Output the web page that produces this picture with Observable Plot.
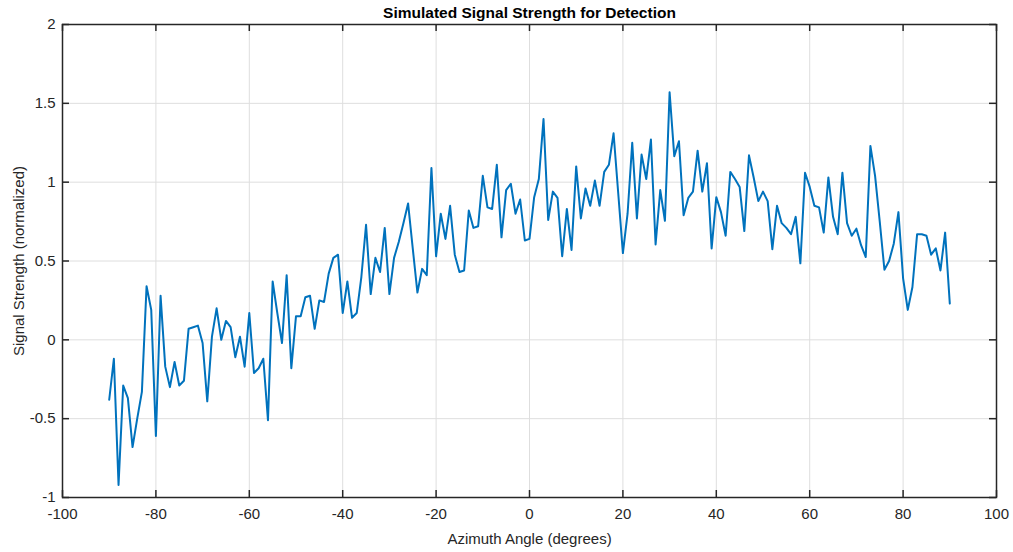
<!DOCTYPE html>
<html>
<head>
<meta charset="utf-8">
<script src="https://cdn.jsdelivr.net/npm/d3@7"></script>
<script src="https://cdn.jsdelivr.net/npm/@observablehq/plot@0.6"></script>
<style>
  html, body { margin: 0; padding: 0; background: #fff; }
  #chart svg { display: block; }
</style>
</head>
<body>
<div id="chart"></div>
<script>
// ---- data ----
const chartTitle = "Simulated Signal Strength for Detection";
const xLabel = "Azimuth Angle (degrees)";
const yLabel = "Signal Strength (normalized)";
const xTicks = [-100, -80, -60, -40, -20, 0, 20, 40, 60, 80, 100];
const yTicks = [-1, -0.5, 0, 0.5, 1, 1.5, 2];
const angleStart = -90;   // degrees, 1-degree sampling
const signal = [
  // -90 .. -61
  -0.38, -0.12, -0.92, -0.29, -0.37, -0.68, -0.50, -0.33, 0.34, 0.19,
  -0.61, 0.28, -0.17, -0.30, -0.14, -0.29, -0.26, 0.07, 0.08, 0.09,
  -0.02, -0.39, 0.02, 0.20, 0.00, 0.12, 0.08, -0.11, 0.02, -0.17,
  // -60 .. -31
  0.17, -0.21, -0.18, -0.12, -0.51, 0.37, 0.17, -0.02, 0.41, -0.18,
  0.15, 0.15, 0.27, 0.28, 0.07, 0.25, 0.24, 0.42, 0.52, 0.54,
  0.17, 0.37, 0.14, 0.17, 0.40, 0.73, 0.29, 0.52, 0.43, 0.71,
  // -30 .. -1
  0.29, 0.52, 0.62, 0.74, 0.865, 0.58, 0.30, 0.45, 0.41, 1.09,
  0.53, 0.80, 0.64, 0.85, 0.54, 0.43, 0.44, 0.82, 0.71, 0.72,
  1.04, 0.84, 0.83, 1.11, 0.65, 0.95, 0.99, 0.80, 0.89, 0.63,
  // 0 .. 29
  0.64, 0.905, 1.02, 1.40, 0.76, 0.94, 0.90, 0.53, 0.83, 0.57,
  1.10, 0.77, 0.96, 0.85, 1.01, 0.85, 1.065, 1.11, 1.31, 0.93,
  0.55, 0.80, 1.25, 0.77, 1.175, 1.02, 1.27, 0.605, 0.95, 0.755,
  // 30 .. 59
  1.57, 1.165, 1.26, 0.79, 0.90, 0.94, 1.20, 0.94, 1.12, 0.58,
  0.905, 0.81, 0.66, 1.065, 1.02, 0.97, 0.69, 1.17, 1.03, 0.88,
  0.94, 0.88, 0.575, 0.85, 0.74, 0.71, 0.67, 0.78, 0.485, 1.06,
  // 60 .. 90
  0.97, 0.85, 0.84, 0.68, 1.03, 0.78, 0.67, 1.06, 0.74, 0.66,
  0.705, 0.60, 0.525, 1.23, 1.04, 0.75, 0.445, 0.50, 0.61, 0.81,
  0.39, 0.19, 0.335, 0.67, 0.67, 0.66, 0.54, 0.58, 0.44, 0.68,
  0.23
];

const rows = signal.map((v, i) => ({angle: angleStart + i, value: v}));

const W = 1013, H = 552;
const mL = 62, mR = 17, mT = 24, mB = 55;
const innerW = W - mL - mR, innerH = H - mT - mB;
const tickLen = 7;
const axisColor = "#262626";
const font = "Liberation Sans, Arial, Helvetica, sans-serif";

const chart = Plot.plot({
  width: W,
  height: H,
  marginLeft: mL,
  marginRight: mR,
  marginTop: mT,
  marginBottom: mB,
  style: {fontFamily: font, fontSize: "15px", color: axisColor, background: "#fff"},
  x: {domain: [-100, 100], ticks: xTicks, label: null},
  y: {domain: [-1, 2], ticks: yTicks, label: null},
  marks: [
    Plot.gridX(xTicks, {stroke: "#dedede", strokeOpacity: 1, strokeWidth: 1}),
    Plot.gridY(yTicks, {stroke: "#dedede", strokeOpacity: 1, strokeWidth: 1}),
    Plot.axisX(xTicks, {tickSize: 0, tickPadding: 11, fontSize: 15, fill: axisColor, tickFormat: d => String(d)}),
    Plot.axisY(yTicks, {tickSize: 0, tickPadding: 7, fontSize: 15, fill: axisColor, tickFormat: d => String(d)}),
    // inward ticks (bottom, top, left, right)
    Plot.tickX(xTicks, {x: d => d, insetTop: innerH - tickLen, stroke: axisColor, strokeWidth: 1.5}),
    Plot.tickX(xTicks, {x: d => d, insetBottom: innerH - tickLen, stroke: axisColor, strokeWidth: 1.5}),
    Plot.tickY(yTicks, {y: d => d, insetRight: innerW - tickLen, stroke: axisColor, strokeWidth: 1.5}),
    Plot.tickY(yTicks, {y: d => d, insetLeft: innerW - tickLen, stroke: axisColor, strokeWidth: 1.5}),
    Plot.line(rows, {x: "angle", y: "value", stroke: "#0072BD", strokeWidth: 2, curve: "linear"}),
    Plot.frame({stroke: axisColor, strokeWidth: 1.5}),
    Plot.text([chartTitle], {frameAnchor: "top", lineAnchor: "middle", dy: -11, text: d => d, fontWeight: "bold", fontSize: 15.5, fill: "#000"}),
    Plot.text([xLabel], {frameAnchor: "bottom", lineAnchor: "middle", dy: 42, text: d => d, fontSize: 15, fill: axisColor}),
    Plot.text([yLabel], {frameAnchor: "left", textAnchor: "middle", lineAnchor: "middle", dx: -43, rotate: -90, text: d => d, fontSize: 15, fill: axisColor})
  ]
});

document.getElementById("chart").appendChild(chart);
</script>
</body>
</html>
